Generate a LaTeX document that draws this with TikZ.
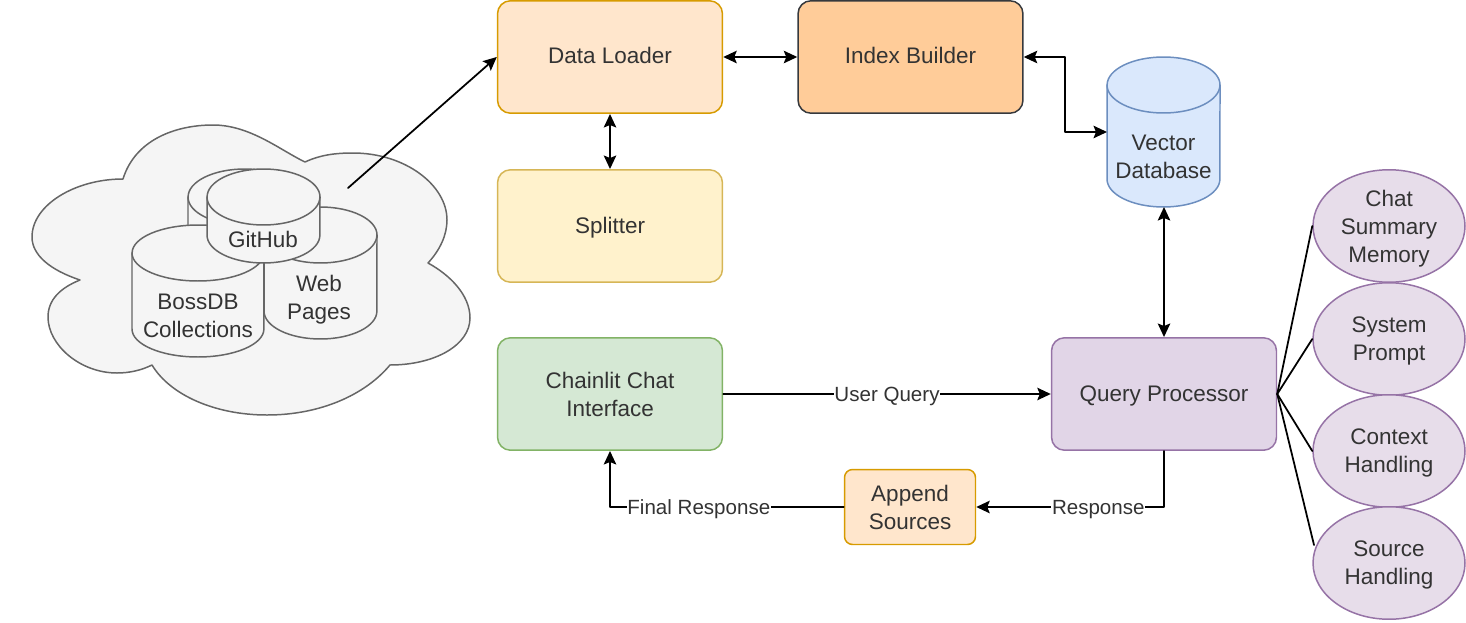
\documentclass[tikz,border=0pt]{standalone}
\usepackage{fontspec}
\setmainfont{Liberation Sans}
\usetikzlibrary{arrows.meta, shapes.geometric}
\definecolor{inkgray}{HTML}{333333}
\definecolor{cloudfill}{HTML}{F5F5F5}
\definecolor{clouddraw}{HTML}{666666}
\definecolor{loaderfill}{HTML}{FFE6CC}
\definecolor{loaderdraw}{HTML}{D79B00}
\definecolor{indexfill}{HTML}{FFCC99}
\definecolor{indexdraw}{HTML}{36393D}
\definecolor{splitfill}{HTML}{FFF2CC}
\definecolor{splitdraw}{HTML}{D6B656}
\definecolor{chatfill}{HTML}{D5E8D4}
\definecolor{chatdraw}{HTML}{82B366}
\definecolor{queryfill}{HTML}{E1D5E7}
\definecolor{querydraw}{HTML}{9673A6}
\definecolor{ovalfill}{HTML}{E7DDEA}
\definecolor{vecfill}{HTML}{DAE8FC}
\definecolor{vecdraw}{HTML}{6C8EBF}
% #1 colours, #2 name, #3 left, #4 right, #5 top, #6 bottom, #7 text position, #8 text
\newcommand{\dbcyl}[8]{
	\pgfmathsetmacro{\rxcm}{(#4-#3)*0.01}
	\filldraw[dbline, #1] (#3,#5+28) -- (#3,#6-28) arc[start angle=180, end angle=360, x radius=\rxcm cm, y radius=0.56cm] -- (#4,#5+28) arc[start angle=0, end angle=180, x radius=\rxcm cm, y radius=0.56cm] -- cycle;
	\draw[dbline, #1] (#3,#5+28) arc[start angle=180, end angle=360, x radius=\rxcm cm, y radius=0.56cm];
	\node[dbtext] (#2) at #7 {#8};
}
\begin{document}
\begin{tikzpicture}[x=0.02cm, y=-0.02cm, font=\fontsize{12.8}{15.9}\selectfont, line join=round, line cap=round, >={Stealth[length=0.27cm, width=0.25cm, inset=0.05cm]},
		box/.style={draw, rounded corners=0.26cm, line width=0.85pt, minimum width=4.5cm, minimum height=2.25cm, align=center, text=inkgray, inner sep=0pt},
		oneline/.style={text height=0.34cm, text depth=0.06cm},
		oval/.style={draw=querydraw, fill=ovalfill, ellipse, line width=0.85pt, minimum width=3.04cm, minimum height=2.25cm, align=center, text=inkgray, inner sep=0pt, text depth=0pt},
		dbline/.style={line width=0.85pt},
		dbtext/.style={align=center, text=inkgray, inner sep=0pt},
		cloudpart/.style={draw=clouddraw, fill=cloudfill},
		link/.style={line width=1pt, <->},
		arrow/.style={line width=1pt, ->},
		plain/.style={line width=1pt},
		tag/.style={fill=white, text=inkgray, inner sep=0.5pt, text height=0.33cm, text depth=0.05cm, font=\fontsize{11.7}{14}\selectfont}]
	\useasboundingbox (0,0) rectangle (1466,622);
	\filldraw[cloudpart, line width=0.85pt] (123,179)
		.. controls (135,140) and (175,125) .. (213,125)
		.. controls (250,125) and (280,150) .. (305,162)
		.. controls (320,155) and (335,153) .. (353,153)
		.. controls (405,153) and (447,185) .. (447,220)
		.. controls (447,235) and (440,250) .. (428,263)
		.. controls (450,275) and (470,295) .. (470,318)
		.. controls (470,345) and (435,365) .. (390,365)
		.. controls (365,395) and (320,415) .. (267,415)
		.. controls (215,415) and (170,395) .. (152,365)
		.. controls (142,370) and (130,373) .. (117,373)
		.. controls (80,373) and (48,345) .. (48,317)
		.. controls (48,300) and (60,288) .. (80,280)
		.. controls (50,270) and (32,255) .. (32,237)
		.. controls (32,205) and (75,179) .. (123,179) -- cycle;
	\coordinate (cloudtip) at (348,188);
	\dbcyl{cloudpart}{backdb}{188}{301}{169}{263}{(244,239)}{}
	\dbcyl{cloudpart}{webpages}{264}{377}{207}{339}{(319,300)}{Web\\Pages}
	\dbcyl{cloudpart}{bossdb}{132}{264}{225}{357}{(198,316)}{BossDB\\Collections}
	\dbcyl{cloudpart}{github}{207}{320}{169}{263}{(263,239)}{GitHub}
	\node[box, oneline, draw=loaderdraw, fill=loaderfill] (dataloader) at (610,57) {Data Loader};
	\node[box, oneline, draw=indexdraw, fill=indexfill] (indexbuilder) at (910.5,57) {Index Builder};
	\node[box, oneline, draw=splitdraw, fill=splitfill] (splitter) at (610,226) {Splitter};
	\node[box, draw=chatdraw, fill=chatfill] (chainlit) at (610,394) {Chainlit Chat\\Interface};
	\node[box, oneline, draw=querydraw, fill=queryfill] (queryproc) at (1164,394) {Query Processor};
	\node[box, draw=loaderdraw, fill=loaderfill, rounded corners=0.16cm, minimum width=2.62cm, minimum height=1.5cm] (append) at (910,507) {Append\\Sources};
	\dbcyl{draw=vecdraw, fill=vecfill}{vectordb}{1107}{1220}{57}{207}{(1163.5,157)}{Vector\\Database}
	\node[oval] (chatmem) at (1389,226) {Chat\\Summary\\Memory};
	\node[oval] (sysprompt) at (1389,339) {System\\Prompt};
	\node[oval] (context) at (1389,451) {Context\\Handling};
	\node[oval] (source) at (1389,563) {Source\\Handling};
	\coordinate (sourcetip) at (1314,545);
	\coordinate (vectorwest) at (1107,132);
	\coordinate (vectorsouth) at (1164,207);
	\draw[arrow] (cloudtip) -- (dataloader.west);
	\draw[link] (dataloader) -- (indexbuilder);
	\draw[link] (dataloader) -- (splitter);
	\draw[link] (indexbuilder.east) -| (1065,132) -- (vectorwest);
	\draw[link] (vectorsouth) -- (queryproc);
	\draw[arrow] (chainlit) -- node[tag, pos=0.5] (userquery) {User Query} (queryproc);
	\draw[arrow] (queryproc.south) |- node[tag, pos=0.675] (response) {Response} (append.east);
	\draw[arrow] (append.west) -| node[tag, pos=0.31] (finalresp) {Final Response} (chainlit.south);
	\draw[plain] (queryproc.east) -- (chatmem.west);
	\draw[plain] (queryproc.east) -- (sysprompt.west);
	\draw[plain] (queryproc.east) -- (context.west);
	\draw[plain] (queryproc.east) -- (sourcetip);
\end{tikzpicture}
\end{document}
